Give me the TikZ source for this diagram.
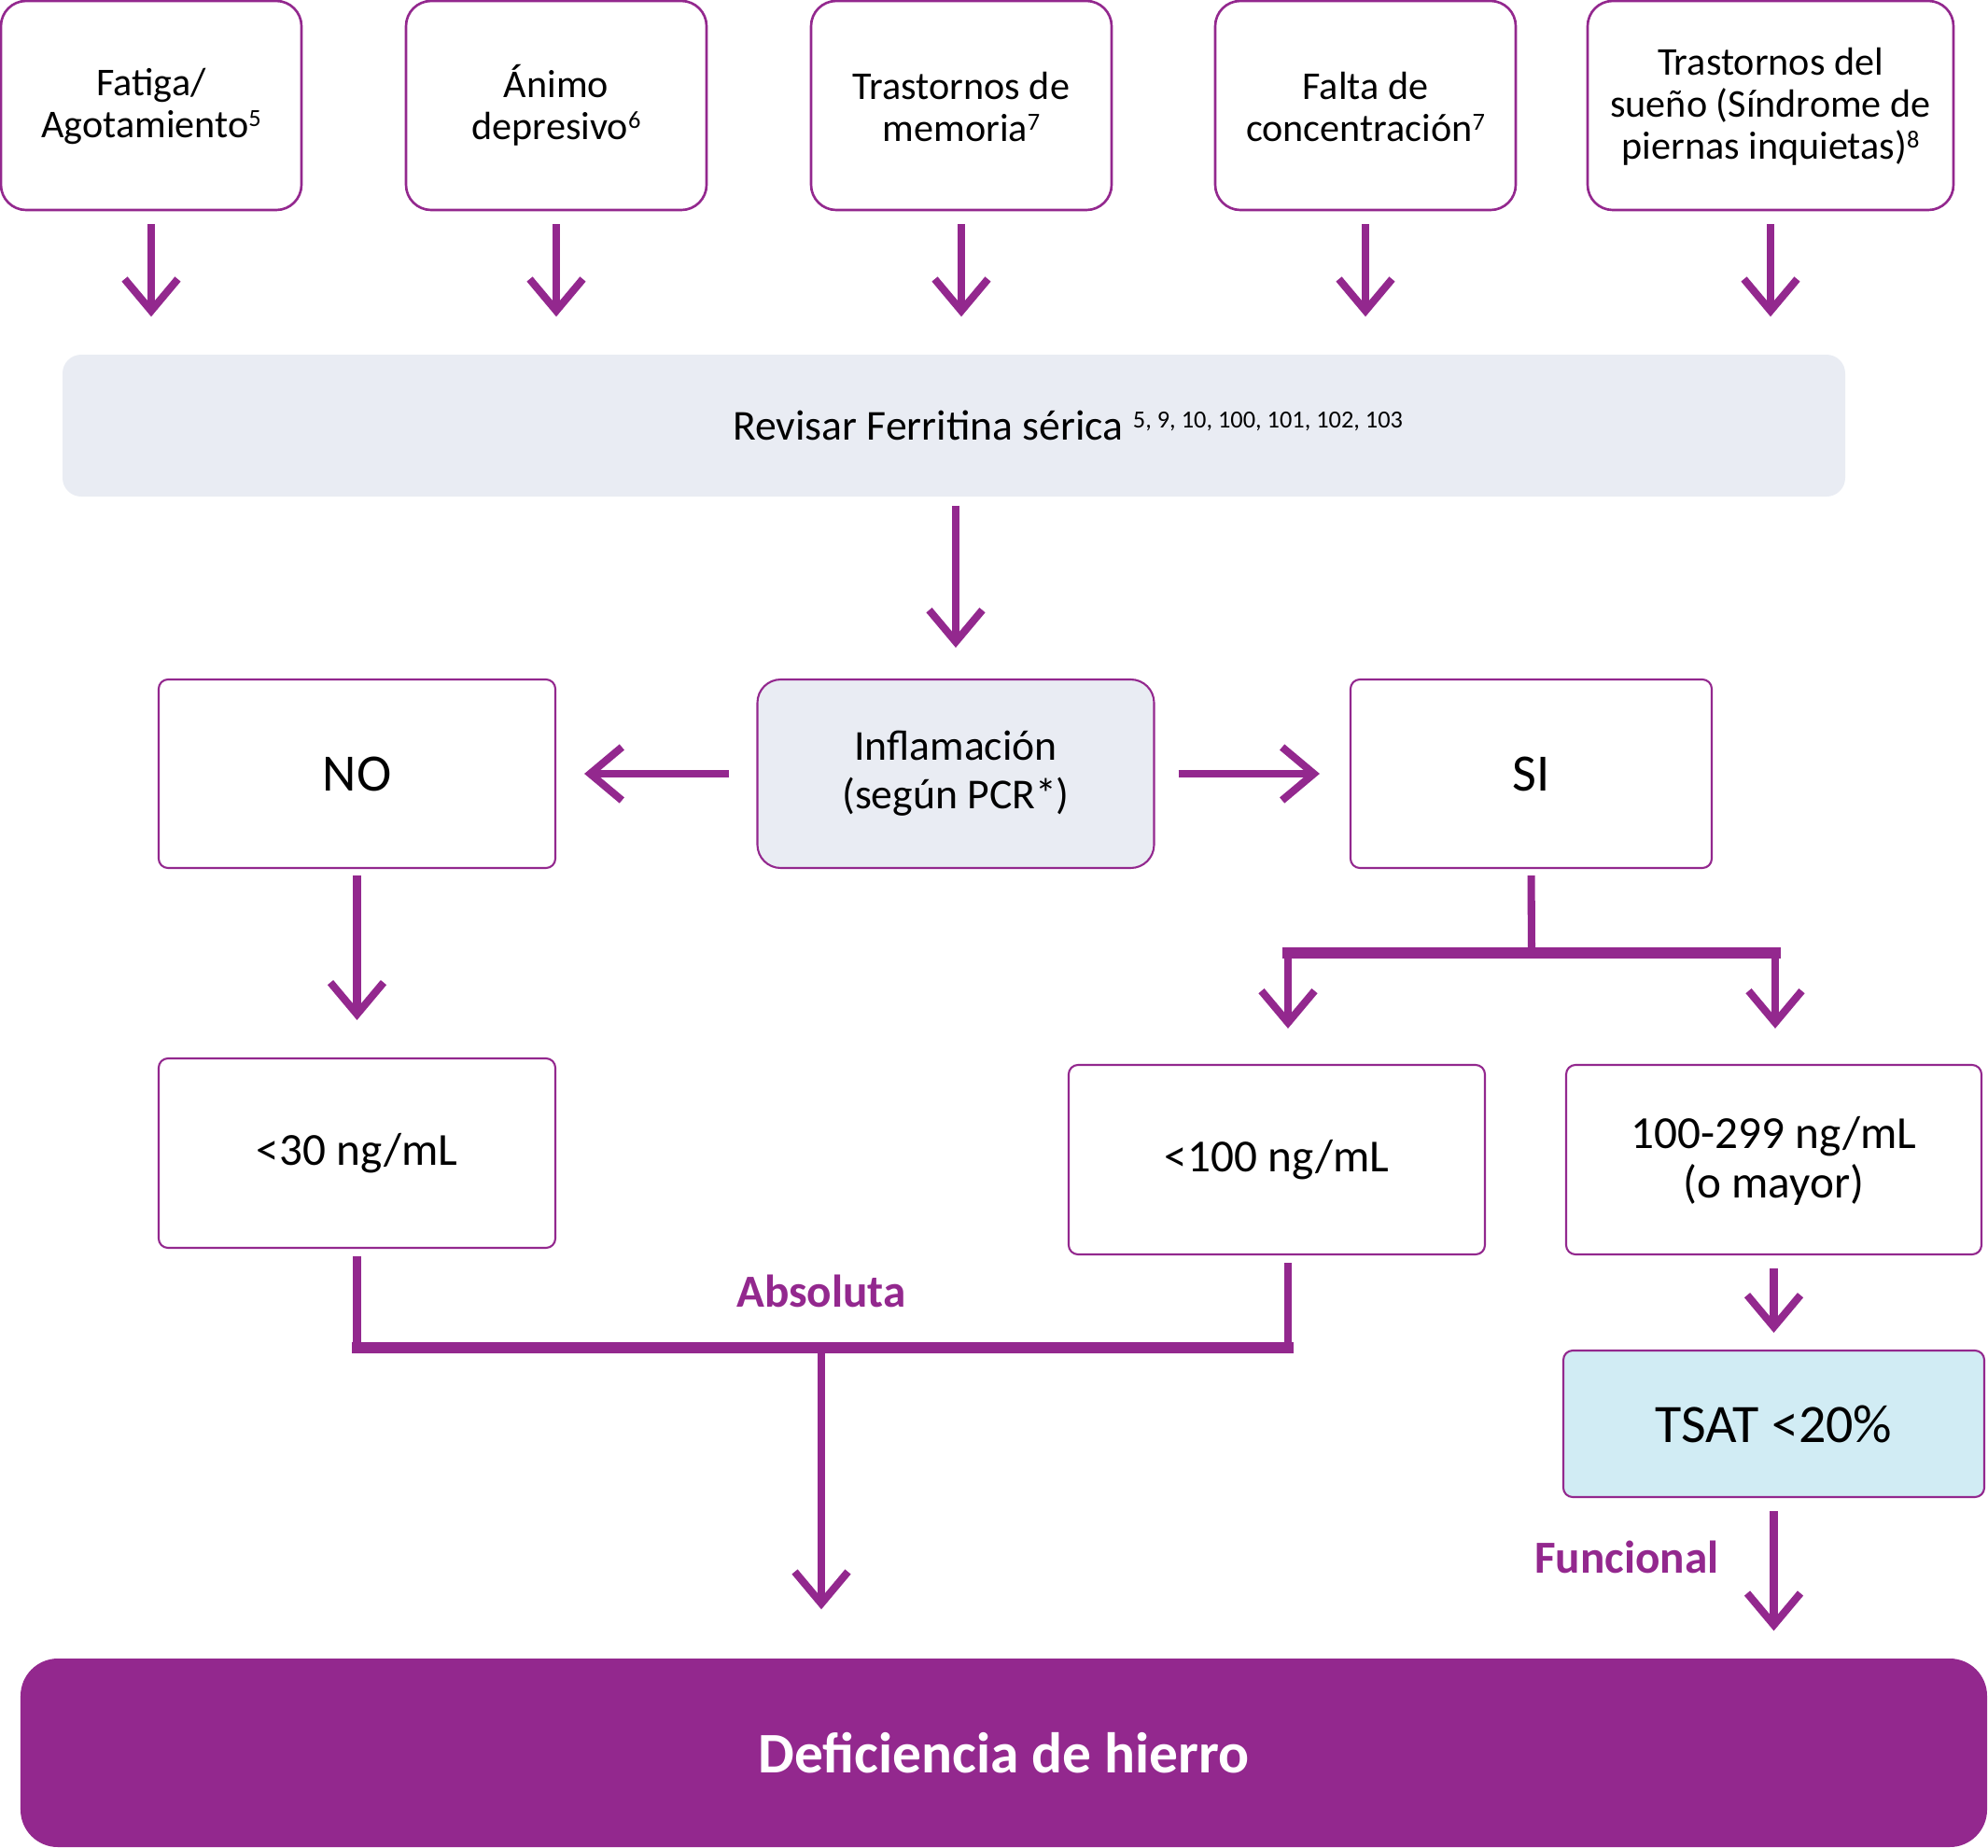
\documentclass[tikz,border=0pt]{standalone}
\usepackage{fontspec}
\setmainfont{Carlito}
\usepackage{tikz}
\usetikzlibrary{arrows.meta}

\definecolor{lila}{RGB}{147,40,142}
\definecolor{gris}{RGB}{233,236,243}
\definecolor{celeste}{RGB}{209,236,244}

\newcommand{\cita}[1]{\raisebox{0.6ex}{\fontsize{7.5}{8}\selectfont #1}}

\tikzset{
	sintoma/.style={shape=rectangle,rounded corners=0.27cm,draw=lila,line width=0.75pt,minimum width=3.22cm,minimum height=2.24cm,align=center,font=\fontsize{12}{12.8}\selectfont},
	caja/.style={shape=rectangle,rounded corners=0.1cm,draw=lila,line width=0.6pt,minimum height=2.03cm,align=center,font=\fontsize{14}{15}\selectfont},
	flecha/.style={draw=lila,line width=2.3pt,-{Straight Barb[length=3.4mm,width=5.7mm]}},
	linea/.style={draw=lila,line width=2.3pt},
	barra/.style={draw=lila,line width=3.2pt,line cap=rect},
	etiqueta/.style={text=lila,font=\bfseries\fontsize{14}{15}\selectfont}
}

\begin{document}
\begin{tikzpicture}
	\useasboundingbox (0,0) rectangle (21.3,-19.8);
	% sintomas
	\node[sintoma] (fatiga)  at (1.62, -1.13)  {\strut Fatiga/\\Agotamiento\cita{5}};
	\node[sintoma] (animo)   at (5.96, -1.13)  {\strut Ánimo\\depresivo\cita{6}};
	\node[sintoma] (memoria) at (10.30, -1.13) {\strut Trastornos de\\memoria\cita{7}};
	\node[sintoma] (concen)  at (14.63, -1.13) {\strut Falta de\\concentración\cita{7}};
	\node[sintoma,minimum width=3.92cm] (sueno) at (18.97, -1.13) {\strut Trastornos del\\sueño (Síndrome de\\piernas inquietas)\cita{8}};
	\node[shape=rectangle,rounded corners=0.2cm,fill=gris,minimum width=19.1cm,minimum height=1.52cm,font=\fontsize{13}{14}\selectfont] (ferritina) at (10.22, -4.56)
		{\hspace*{2.44cm}Revisar Ferritina sérica \cita{5, 9, 10, 100, 101, 102, 103}};
	% inflamacion
	\node[caja,fill=gris,rounded corners=0.25cm,minimum width=4.25cm,minimum height=2.02cm,font=\fontsize{13}{14.7}\selectfont] (inflam) at (10.24, -8.29) {Inflamación\\(según PCR*)};
	\node[caja,minimum width=4.25cm,minimum height=2.02cm,font=\fontsize{16}{17}\selectfont] (no) at (3.825, -8.29) {NO};
	\node[caja,minimum width=3.87cm,minimum height=2.02cm,font=\fontsize{16}{17}\selectfont] (si) at (16.405, -8.29) {SI};
	% valores
	\node[caja,minimum width=4.25cm] (lt30)  at (3.825, -12.355) {<30 ng/mL};
	\node[caja,minimum width=4.46cm] (lt100) at (13.68, -12.425) {<100 ng/mL};
	\node[caja,minimum width=4.45cm] (r100)  at (19.005, -12.425) {\strut 100-299 ng/mL\\(o mayor)};
	\node[caja,fill=celeste,minimum width=4.51cm,minimum height=1.57cm,font=\fontsize{16.5}{17}\selectfont] (tsat) at (19.005, -15.255) {TSAT <20\%};
	\node[shape=rectangle,rounded corners=0.4cm,fill=lila,minimum width=21.07cm,minimum height=2.02cm,text=white,font=\bfseries\fontsize{17.5}{18}\selectfont] (deficiencia) at (10.755, -18.78) {Deficiencia de hierro};
	\node[etiqueta] (absoluta)  at (8.80, -13.83)  {Absoluta};
	\node[etiqueta] (funcional) at (17.43, -16.68) {Funcional};
	\coordinate (sijoin) at (16.41, -10.21);
	\coordinate (splitL) at (13.80, -10.21);
	\coordinate (splitR) at (19.02, -10.21);
	\coordinate (absjoin) at (8.80, -14.44);
	% flechas
	\foreach \s in {fatiga,animo,memoria,concen,sueno}
		\draw[flecha,shorten <=0.14cm,shorten >=0.40cm] (\s.south) -- (\s.south |- ferritina.north);
	\draw[flecha,shorten <=0.09cm,shorten >=0.33cm] (ferritina.south -| inflam.north) -- (inflam.north);
	\draw[flecha,shorten <=0.29cm,shorten >=0.30cm] (inflam.west) -- (no.east);
	\draw[flecha,shorten <=0.25cm,shorten >=0.32cm] (inflam.east) -- (si.west);
	\draw[flecha,shorten <=0.07cm,shorten >=0.40cm] (no.south) -- (lt30.north);
	\draw[linea,shorten <=0.07cm] (si.south) -- (sijoin);
	\draw[barra] (splitL) -- (splitR);
	\draw[flecha,shorten >=0.38cm] (splitL) -- (splitL |- lt100.north);
	\draw[flecha,shorten >=0.38cm] (splitR) -- (splitR |- r100.north);
	\draw[flecha,shorten <=0.14cm,shorten >=0.18cm] (r100.south) -- (tsat.north);
	\draw[flecha,shorten <=0.14cm,shorten >=0.29cm] (tsat.south) -- (tsat.south |- deficiencia.north);
	\draw[linea,shorten <=0.08cm] (lt30.south) -- (lt30.south |- absjoin);
	\draw[linea,shorten <=0.08cm] (splitL |- lt100.south) -- (splitL |- absjoin);
	\draw[barra] (lt30.south |- absjoin) -- (splitL |- absjoin);
	\draw[flecha,shorten >=0.52cm] (absjoin) -- (absjoin |- deficiencia.north);
\end{tikzpicture}
\end{document}
